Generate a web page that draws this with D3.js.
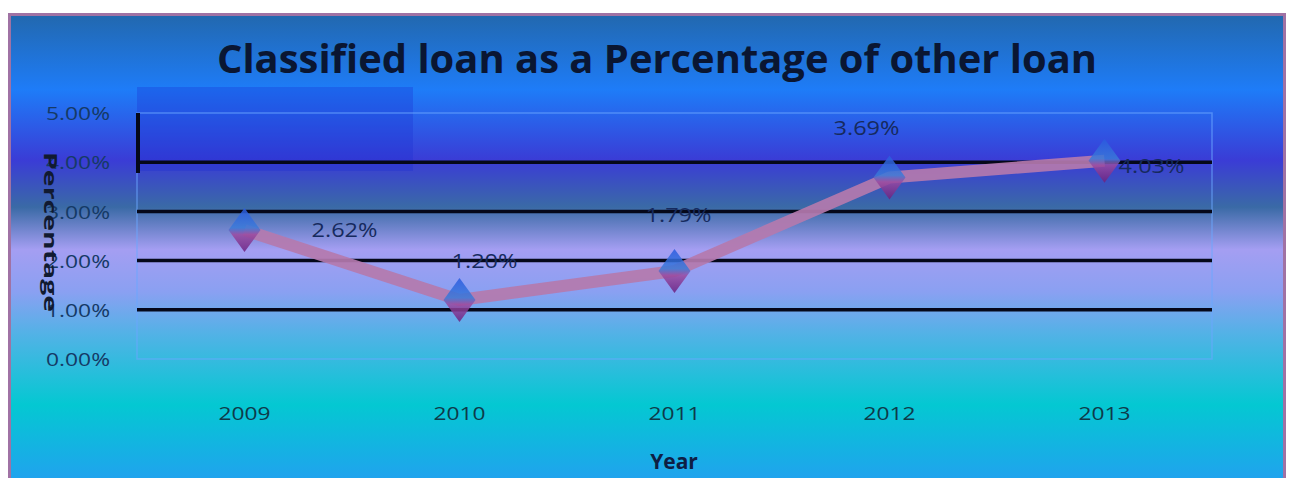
<!DOCTYPE html>
<html><head><meta charset="utf-8">
<script src="https://cdn.jsdelivr.net/npm/d3@7"></script>
<style>html,body{margin:0;padding:0;background:#fff;}svg{display:block;}</style>
</head><body>
<svg id="chart" width="1291" height="478"></svg>
<script>
const years = ["2009","2010","2011","2012","2013"];
const values = [2.62, 1.20, 1.79, 3.69, 4.03];
const labels = ["2.62%","1.20%","1.79%","3.69%","4.03%"];
const yTicks = [0,1,2,3,4,5];
const gridValues = [1,2,3,4];
const titleText = "Classified loan as a Percentage of other loan";
const xTitle = "Year";
const yTitle = "Percentage";

const svg = d3.select("#chart");
const defs = svg.append("defs");
const bg = defs.append("linearGradient").attr("id","bg").attr("x1",0).attr("y1",0).attr("x2",0).attr("y2",1);
[[0,"#2268ae"],[0.16,"#1e7cf8"],[0.31,"#3a3cd6"],[0.41,"#3a6aa6"],[0.5,"#a49ef2"],[0.59,"#8aa0f2"],[0.68,"#52b2e6"],[0.83,"#04c8d2"],[1,"#22a0f0"]]
  .forEach(([o,c])=>bg.append("stop").attr("offset",o).attr("stop-color",c));
const mk = defs.append("linearGradient").attr("id","mk").attr("x1",0).attr("y1",0).attr("x2",0).attr("y2",1);
[[0,"#2a5ae0"],[0.45,"#3a7ad8"],[0.6,"#9a4aa0"],[1,"#6a2080"]].forEach(([o,c])=>mk.append("stop").attr("offset",o).attr("stop-color",c));

// frame
svg.append("rect").attr("x",9.5).attr("y",14.5).attr("width",1275).attr("height",470)
  .attr("fill","url(#bg)").attr("stroke","#a072a4").attr("stroke-width",3);

const m = {left:137, right:1212, top:113, bottom:359};
const x = d3.scaleBand().domain(years).range([m.left, m.right]);
const y = d3.scaleLinear().domain([0,5]).range([m.bottom, m.top]);

// dark overlay artifact
svg.append("rect").attr("x",137).attr("y",87).attr("width",276).attr("height",84)
  .attr("fill","#1a30d0").attr("opacity",0.3);

// plot border
svg.append("rect").attr("x",m.left).attr("y",m.top).attr("width",m.right-m.left).attr("height",m.bottom-m.top)
  .attr("fill","none").attr("stroke","#6aa6ff").attr("stroke-width",1.5).attr("opacity",0.6);

// gridlines
svg.append("g").selectAll("line").data(gridValues).join("line")
  .attr("x1",m.left).attr("x2",m.right).attr("y1",d=>y(d)).attr("y2",d=>y(d))
  .attr("stroke","#05081a").attr("stroke-width",3.5);
svg.append("line").attr("x1",m.left+1).attr("x2",m.left+1).attr("y1",y(5)).attr("y2",y(3.78))
  .attr("stroke","#05081a").attr("stroke-width",4);

// y axis
const yAxis = svg.append("g").attr("transform",`translate(${m.left-24},0)`)
  .call(d3.axisLeft(y).tickValues(yTicks).tickFormat(d=>d.toFixed(2)+"%").tickSize(0));
yAxis.select(".domain").remove();
yAxis.selectAll("text").attr("font-family","Open Sans, sans-serif").attr("font-size",19)
  .attr("fill","#153a66").attr("dy","0.35em")
  .attr("textLength",64).attr("lengthAdjust","spacingAndGlyphs");

// x axis
const xAxis = svg.append("g").attr("transform",`translate(0,${m.bottom+44})`)
  .call(d3.axisBottom(x).tickSize(0));
xAxis.select(".domain").remove();
xAxis.selectAll("text").attr("font-family","Open Sans, sans-serif").attr("font-size",19)
  .attr("fill","#0e3a4a").attr("textLength",52).attr("lengthAdjust","spacingAndGlyphs");

// line
const pts = years.map((yr,i)=>[x(yr)+x.bandwidth()/2, y(values[i])]);
svg.append("path").attr("d",d3.line()(pts)).attr("fill","none")
  .attr("stroke","#b47aae").attr("stroke-width",12).attr("stroke-linejoin","round").attr("opacity",0.92);

// markers
svg.append("g").selectAll("path").data(pts).join("path")
  .attr("transform",d=>`translate(${d[0]},${d[1]})`)
  .attr("d","M0,-22 L16,0 L0,22 L-16,0 Z").attr("fill","url(#mk)").attr("opacity",0.85);

// data labels
const lblOff = [[100,0],[25,-39],[4,-56],[-23,-49],[47,5]];
svg.append("g").selectAll("text").data(pts).join("text")
  .attr("x",(d,i)=>d[0]+lblOff[i][0]).attr("y",(d,i)=>d[1]+lblOff[i][1])
  .attr("text-anchor","middle").attr("dy","0.35em")
  .attr("font-family","Open Sans, sans-serif").attr("font-size",20)
  .attr("textLength",66).attr("lengthAdjust","spacingAndGlyphs")
  .attr("fill","#162a5e").text((d,i)=>labels[i]);

// title
svg.append("text").attr("x",657).attr("y",73).attr("text-anchor","middle")
  .attr("font-family","Open Sans, sans-serif").attr("font-weight","bold").attr("font-size",39)
  .attr("textLength",880).attr("lengthAdjust","spacingAndGlyphs")
  .attr("fill","#0a1632").text(titleText);

// x title
svg.append("text").attr("x",674).attr("y",469).attr("text-anchor","middle")
  .attr("font-family","Open Sans, sans-serif").attr("font-weight","bold").attr("font-size",21)
  .attr("fill","#0e1e44").text(xTitle);

// y title
svg.append("text").attr("transform","translate(50,232) rotate(90)").attr("text-anchor","middle")
  .attr("font-family","Open Sans, sans-serif").attr("font-weight","bold").attr("font-size",18)
  .attr("textLength",160).attr("lengthAdjust","spacingAndGlyphs")
  .attr("fill","#111a30").attr("dy","0.35em").text(yTitle);
</script>
</body></html>
